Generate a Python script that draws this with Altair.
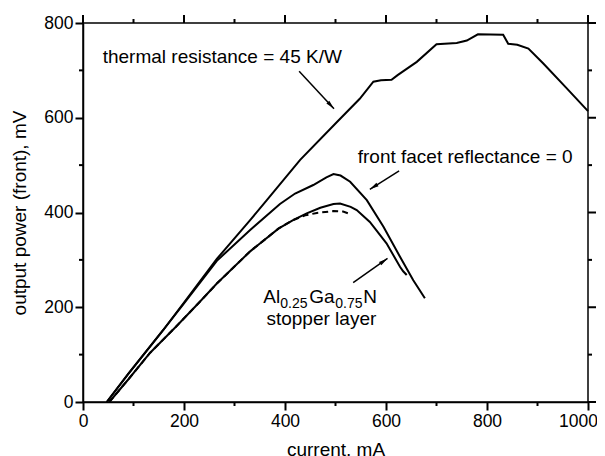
import math
import altair as alt
import pandas as pd

# ---------------- data ----------------
thermal_x = [47, 90, 159, 200, 265, 331, 364, 430, 500, 548, 575, 590, 611, 623, 661, 700, 740, 760, 782, 832, 842, 860, 882, 912, 958, 1000]
thermal_y = [0, 60, 152, 210, 302, 384, 426, 511, 588, 640, 676, 679, 680, 690, 718, 755, 758, 763, 776, 775, 756, 754, 746, 714, 662, 614]

facet_x = [47, 90, 159, 200, 265, 331, 390, 420, 456, 482, 496, 510, 529, 562, 595, 628, 654, 677]
facet_y = [0, 60, 152, 208, 298, 363, 418, 440, 458, 474, 481, 478, 465, 426, 370, 306, 257, 219]

stopper_x = [52, 90, 133, 185, 230, 265, 331, 387, 416, 443, 470, 496, 509, 530, 542, 568, 601, 628, 634, 641]
stopper_y = [0, 48, 104, 160, 210, 250, 318, 366, 384, 398, 410, 418, 419, 412, 405, 380, 335, 285, 276, 268]

dashed_x = [52, 90, 133, 185, 230, 265, 331, 387, 416, 440, 463, 496, 515, 531]
dashed_y = [0, 48, 104, 160, 210, 250, 318, 366, 384, 394, 399, 403, 402, 396]

x_major = [0, 200, 400, 600, 800, 1000]
x_minor = [100, 300, 500, 700, 900]
y_major = [0, 200, 400, 600, 800]
y_minor = [100, 300, 500, 700]

# arrows: start (x1,y1) -> tip (x2,y2)
arrow_x1 = [428, 626, 535]
arrow_y1 = [698, 488, 252]
arrow_x2 = [497, 568, 603]
arrow_y2 = [619, 449, 303]

label_text = ["thermal resistance = 45 K/W", "front facet reflectance = 0"]
label_x = [39, 544]
label_y = [716, 504]

alloy_pieces = ["Al", "0.25", "Ga", "0.75", "N"]
alloy_x = 357
alloy_y = 208
stopper_text = "stopper layer"
stopper_tx = 472
stopper_ty = 162

# ---------------- layout / style ----------------
W, H = 505, 379
FONT = "Liberation Sans"
TICK_FS = 17.5
TITLE_FS = 19
ANN_FS = 19
SUB_FS = 14
MAJOR, MINOR = 8, 4
TICK_W = 2

rows = []
for name, xs, ys in [("thermal", thermal_x, thermal_y),
                     ("facet", facet_x, facet_y),
                     ("stopper", stopper_x, stopper_y)]:
    for i, (x, y) in enumerate(zip(xs, ys)):
        rows.append({"series": name, "current": x, "power": y, "order": i})
curves = pd.DataFrame(rows)
dashed = pd.DataFrame({"current": dashed_x, "power": dashed_y, "order": list(range(len(dashed_x)))})

sx = W / 1000.0
sy = H / 800.0
angles = []
for a, b, c, d in zip(arrow_x1, arrow_y1, arrow_x2, arrow_y2):
    dxp = (c - a) * sx
    dyp = -(d - b) * sy
    angles.append(math.degrees(math.atan2(dxp, -dyp)) % 360)
arrows = pd.DataFrame({"x1": arrow_x1, "y1": arrow_y1, "x2": arrow_x2, "y2": arrow_y2, "angle": angles})
labels = pd.DataFrame({"current": label_x, "power": label_y, "text": label_text})

xscale = alt.Scale(domain=[0, 1000], nice=False, zero=False)
yscale = alt.Scale(domain=[0, 800], nice=False, zero=False)

common_axis = dict(grid=False, domain=True, domainColor="#000000", domainWidth=1.5,
                   ticks=True, tickColor="#000000", tickWidth=TICK_W, tickSize=MAJOR,
                   labelFlush=False, format="d", labelFont=FONT, labelFontSize=TICK_FS,
                   labelColor="#000000", titleFont=FONT, titleFontSize=TITLE_FS,
                   titleColor="#000000", titleFontWeight="normal")

x_axis = alt.Axis(orient="bottom", values=x_major, title="current, mA",
                  labelPadding=2, titlePadding=11,
                  labelOffset={"condition": {"test": "datum.value == 1000", "value": -10}, "value": 0},
                  **common_axis)
y_axis = alt.Axis(orient="left", values=y_major, title="output power (front), mV",
                  labelPadding=2, titlePadding=14, **common_axis)

lines = alt.Chart(curves).mark_line(color="black", strokeWidth=2).encode(
    x=alt.X("current:Q", scale=xscale, axis=x_axis),
    y=alt.Y("power:Q", scale=yscale, axis=y_axis),
    detail="series:N", order="order:Q")

xe = alt.X("current:Q", scale=xscale)
ye = alt.Y("power:Q", scale=yscale)

dash_line = alt.Chart(dashed).mark_line(color="black", strokeWidth=2, strokeDash=[6, 4]).encode(
    x=xe, y=ye, order="order:Q")

# remaining tick marks (minor ticks and the mirrored top/right ticks)
tick_layers = []
for vals, ln, bottom in [(x_major, MAJOR, False), (x_minor, MINOR, True)]:
    d = pd.DataFrame({"current": vals})
    if bottom:
        tick_layers.append(alt.Chart(d).mark_rule(color="black", strokeWidth=TICK_W).encode(
            x=xe, y=alt.value(H), y2=alt.value(H + ln)))
    tick_layers.append(alt.Chart(d).mark_rule(color="black", strokeWidth=TICK_W).encode(
        x=xe, y=alt.value(-ln), y2=alt.value(0)))
for vals, ln, left in [(y_major, MAJOR, False), (y_minor, MINOR, True)]:
    d = pd.DataFrame({"power": vals})
    if left:
        tick_layers.append(alt.Chart(d).mark_rule(color="black", strokeWidth=TICK_W).encode(
            y=ye, x=alt.value(-ln), x2=alt.value(0)))
    tick_layers.append(alt.Chart(d).mark_rule(color="black", strokeWidth=TICK_W).encode(
        y=ye, x=alt.value(W), x2=alt.value(W + ln)))

# arrows
arrow_lines = alt.Chart(arrows).mark_rule(color="black", strokeWidth=1.5).encode(
    x=alt.X("x1:Q", scale=xscale), y=alt.Y("y1:Q", scale=yscale),
    x2="x2:Q", y2="y2:Q")
arrow_heads = alt.Chart(arrows).mark_point(
    shape="M0,0L-0.42,1.9L0.42,1.9Z", filled=True, color="black", opacity=1, size=90, strokeWidth=0
).encode(x=alt.X("x2:Q", scale=xscale), y=alt.Y("y2:Q", scale=yscale),
         angle=alt.Angle("angle:Q", scale=None))

# text annotations
text_main = alt.Chart(labels).mark_text(align="left", baseline="alphabetic", font=FONT,
                                        fontSize=ANN_FS, color="black").encode(x=xe, y=ye, text="text:N")

alloy_layers = []
offsets = [(0, 0, ANN_FS), (17, 5, SUB_FS), (46, 0, ANN_FS), (72, 5, SUB_FS), (100, 0, ANN_FS)]
for piece, (dx, dy, fs) in zip(alloy_pieces, offsets):
    d = pd.DataFrame({"current": [alloy_x], "power": [alloy_y], "text": [piece]})
    alloy_layers.append(
        alt.Chart(d).mark_text(align="left", baseline="alphabetic", font=FONT, fontSize=fs,
                               color="black", dx=dx, dy=dy).encode(x=xe, y=ye, text="text:N"))

sd = pd.DataFrame({"current": [stopper_tx], "power": [stopper_ty], "text": [stopper_text]})
stopper_label = alt.Chart(sd).mark_text(align="center", baseline="alphabetic", font=FONT,
                                        fontSize=ANN_FS, color="black").encode(x=xe, y=ye, text="text:N")

chart = alt.layer(lines, dash_line, *tick_layers, arrow_lines, arrow_heads, text_main,
                  *alloy_layers, stopper_label).properties(
    width=W, height=H,
    autosize=alt.AutoSizeParams(type="none"),
    padding={"left": 75, "top": 15, "right": 9, "bottom": 58},
    background="white",
).configure_view(stroke="#000000", strokeWidth=1.5)

chart.save("out.html", embed_options={"renderer": "svg", "actions": False})
